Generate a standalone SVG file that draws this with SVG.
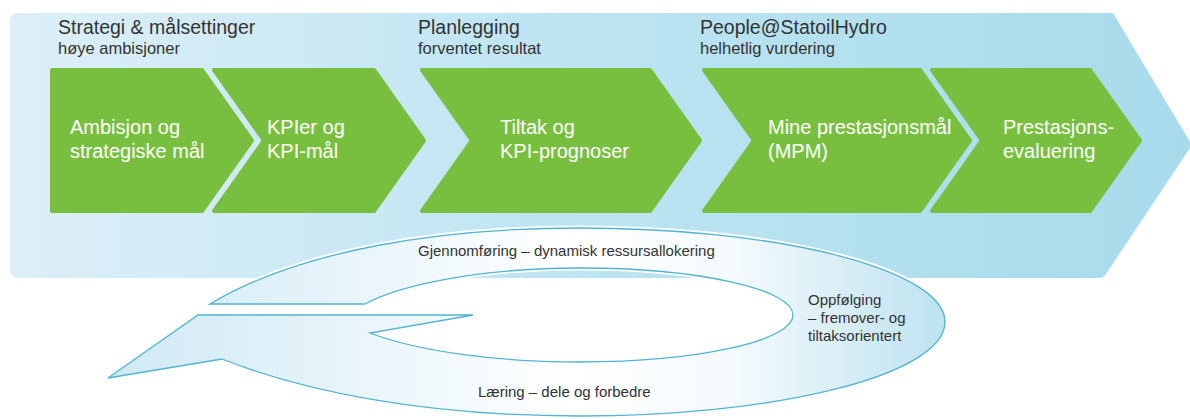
<svg xmlns="http://www.w3.org/2000/svg" width="1190" height="419" viewBox="0 0 1190 419">
<defs>
<linearGradient id="bgGrad" x1="0" y1="0" x2="1" y2="0">
<stop offset="0" stop-color="#ddeff8"/>
<stop offset="0.45" stop-color="#bfe5f2"/>
<stop offset="1" stop-color="#a7dbeb"/>
</linearGradient>
<linearGradient id="ringGrad" gradientUnits="userSpaceOnUse" x1="108" y1="0" x2="945" y2="0">
<stop offset="0" stop-color="#cfe9f5"/>
<stop offset="0.55" stop-color="#ffffff"/>
<stop offset="0.75" stop-color="#f4fafd"/>
<stop offset="1" stop-color="#bde2f0"/>
</linearGradient>
<style>
.chev{fill:#79bf3f;stroke:#79bf3f;stroke-width:4;stroke-linejoin:round}
.hd{font-family:"Liberation Sans",Arial,sans-serif;fill:#333333}
.h1{font-size:19.5px}
.h2{font-size:16.5px}
.ct{font-family:"Liberation Sans",Arial,sans-serif;font-size:20px;fill:#ffffff}
.lt{font-family:"Liberation Sans",Arial,sans-serif;font-size:15px;fill:#333333}
.ring{fill:url(#ringGrad);stroke:#52b4d1;stroke-width:1.3;stroke-linejoin:miter}
</style>
</defs>

<g id="background">
<path d="M18,13 H1113 L1192,145 L1106,274 Q1104,278 1100,278 H18 Q10,278 10,270 V21 Q10,13 18,13 Z" fill="url(#bgGrad)"/>
</g>

<g id="headers">
<text class="hd h1" x="58" y="34">Strategi &amp; målsettinger</text>
<text class="hd h2" x="58" y="54">høye ambisjoner</text>
<text class="hd h1" x="418" y="34">Planlegging</text>
<text class="hd h2" x="418" y="54">forventet resultat</text>
<text class="hd h1" x="700" y="34">People@StatoilHydro</text>
<text class="hd h2" x="700" y="54">helhetlig vurdering</text>
</g>

<g id="node-ambisjon">
<polygon class="chev" points="52,70 202,70 252,140.5 202,211 52,211"/>
<text class="ct" x="70" y="134">Ambisjon og</text>
<text class="ct" x="70" y="158">strategiske mål</text>
</g>
<g id="node-kpi">
<polygon class="chev" points="214,70 374,70 424,140.5 374,211 214,211 264,140.5"/>
<text class="ct" x="267" y="134">KPIer og</text>
<text class="ct" x="267" y="158">KPI-mål</text>
</g>
<g id="node-tiltak">
<polygon class="chev" points="422,70 650,70 700,140.5 650,211 422,211 472,140.5"/>
<text class="ct" x="500" y="134">Tiltak og</text>
<text class="ct" x="500" y="158">KPI-prognoser</text>
</g>
<g id="node-mpm">
<polygon class="chev" points="704,70 920,70 970,140.5 920,211 704,211 754,140.5"/>
<text class="ct" x="768" y="134">Mine prestasjonsmål</text>
<text class="ct" x="768" y="158">(MPM)</text>
</g>
<g id="node-evaluering">
<polygon class="chev" points="932,70 1090,70 1140,140.5 1090,211 932,211 982,140.5"/>
<text class="ct" x="1003" y="134">Prestasjons-</text>
<text class="ct" x="1003" y="158">evaluering</text>
</g>

<g id="connectors">
<path d="M210,304 C300,250 440,228 580,228 A365,94 0 0 1 580,416 C420,416 300,390 222,359 L108,378 L198,315 L473,315 L370,333 C420,352 500,362 580,362 A213,47 0 0 0 580,268 C480,268 400,285 365,304 Z" fill="none" stroke="#ffffff" stroke-width="5" stroke-linejoin="miter"/>
<path class="ring" d="M210,304 C300,250 440,228 580,228 A365,94 0 0 1 580,416 C420,416 300,390 222,359 L108,378 L198,315 L473,315 L370,333 C420,352 500,362 580,362 A213,47 0 0 0 580,268 C480,268 400,285 365,304 Z"/>
</g>

<g id="labels">
<text class="lt" x="418" y="256">Gjennomføring – dynamisk ressursallokering</text>
<text class="lt" x="808" y="305">Oppfølging</text>
<text class="lt" x="808" y="323">– fremover- og</text>
<text class="lt" x="808" y="341">tiltaksorientert</text>
<text class="lt" x="478" y="397">Læring – dele og forbedre</text>
</g>
</svg>
